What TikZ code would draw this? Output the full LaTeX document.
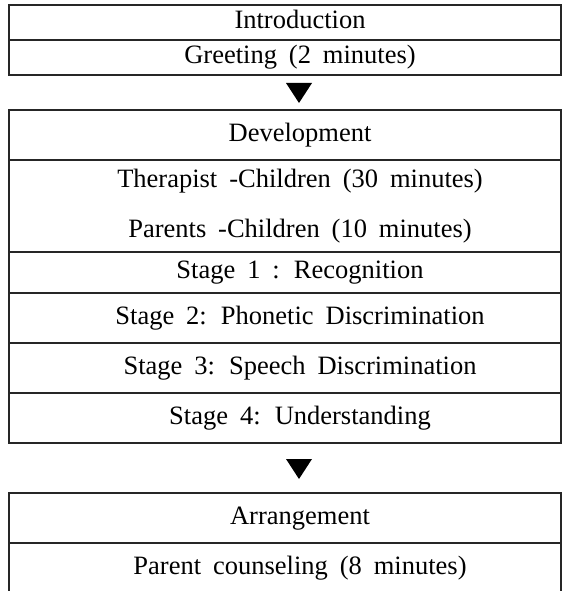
\documentclass[tikz,border=0pt]{standalone}
\usepackage{fontspec}
\setmainfont{Liberation Serif}[WordSpace=1.8]
\usepackage{tikz}
\usetikzlibrary{positioning}

\begin{document}
\begin{tikzpicture}[
  x=1pt, y=-1pt,
  node distance=0pt,
  row/.style={draw=black!85, line width=1.2pt, minimum width=552pt, minimum height=#1, inner sep=0pt, outer sep=0pt},
  row/.default=50pt,
  txt/.style={xshift=15pt, inner sep=0pt, align=center, font=\fontsize{26.5}{50}\selectfont},
  line/.style={txt, text height=18pt, text depth=6pt},
  marker/.style={fill=black}
]
\useasboundingbox (0,0) rectangle (565,591);

\node[row=35pt, label={[line]center:Introduction}] (intro) at (285,22.5) {};
\node[row=35pt, below=of intro, label={[line]center:Greeting (2 minutes)}] (greet) {};

\node[row, below=35pt of greet, label={[line]center:Development}] (dev) {};
\node[row=92pt, below=of dev, label={[txt]center:Therapist -Children (30 minutes)\\Parents -Children (10 minutes)}] (pair) {};
\node[row=41pt, below=of pair, label={[line]center:Stage 1 : Recognition}] (s1) {};
\node[row, below=of s1, label={[line]center:Stage 2: Phonetic Discrimination}] (s2) {};
\node[row, below=of s2, label={[line]center:Stage 3: Speech Discrimination}] (s3) {};
\node[row, below=of s3, label={[line]center:Stage 4: Understanding}] (s4) {};

\node[row, below=50pt of s4, label={[line]center:Arrangement}] (arr) {};
\node[row, below=of arr, label={[line]center:Parent counseling (8 minutes)}] (couns) {};

% triangles between the blocks
\coordinate (t1) at (299,93);
\coordinate (t2) at (299,469);
\fill[marker] (t1) +(-13,-10) -- +(13,-10) -- +(0,10) -- cycle;
\fill[marker] (t2) +(-13,-10) -- +(13,-10) -- +(0,10) -- cycle;
\end{tikzpicture}
\end{document}
